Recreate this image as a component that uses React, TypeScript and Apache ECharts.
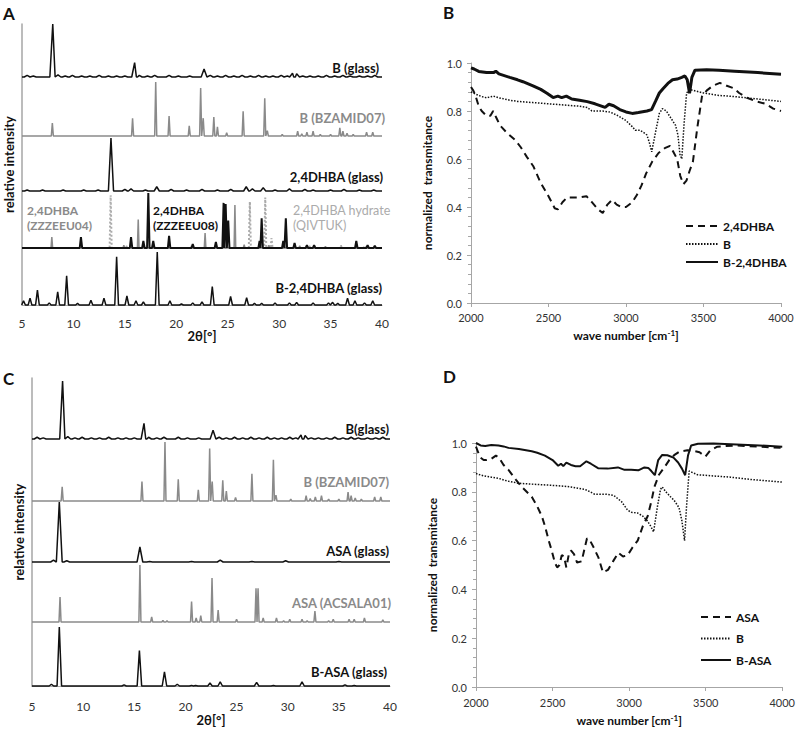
import React, { useEffect, useRef } from "react";
import * as echarts from "echarts";

type Peak = [number, number]; // [2θ in degrees, relative intensity in % of the trace maximum]

// ---------- Panel A / C : XRD patterns ----------
const bGlassPeaks: Peak[] = [
  [5.5, 3], [6.1, 2], [7.99, 100], [8.5, 4], [9.2, 2], [9.9, 3], [10.8, 2], [11.6, 2], [12.5, 3], [13.4, 2],
  [14.2, 2], [15.0, 2], [15.95, 27], [16.4, 3], [17.2, 2], [17.9, 3], [19.3, 3], [20.2, 2], [21.3, 2],
  [22.7, 15], [23.3, 3], [24.0, 2], [24.8, 3], [25.6, 2], [26.4, 3], [27.2, 2], [28.0, 3], [28.7, 2],
  [29.4, 2], [30.2, 3], [30.8, 2], [31.3, 7], [31.7, 6], [32.3, 2], [33.0, 2], [33.8, 2], [34.6, 3],
  [35.4, 2], [36.2, 3], [36.9, 2], [37.8, 2], [38.6, 2], [39.3, 3],
];
const bzamid07Peaks: Peak[] = [
  [7.95, 24], [15.75, 33], [18.0, 100], [19.3, 37], [21.26, 19], [22.37, 89], [22.62, 33], [23.65, 35],
  [24.0, 17], [24.9, 6], [26.5, 46], [28.6, 70], [28.85, 10], [30.3, 3], [31.8, 9], [32.2, 4], [32.7, 7],
  [33.3, 9], [34.0, 3], [35.0, 3], [35.9, 15], [36.2, 9], [36.6, 5], [37.2, 3], [38.5, 7], [39.1, 7],
];
const dhbaGlassPeaks: Peak[] = [
  [5.5, 2], [7.0, 2], [9.0, 2], [11.0, 2], [12.4, 2], [13.65, 100], [15.0, 3], [15.6, 4], [17.0, 2],
  [18.1, 8], [19.5, 3], [21.0, 2], [22.5, 3], [24.0, 2], [25.3, 3], [26.8, 8], [27.4, 4], [28.45, 6],
  [29.6, 2], [31.0, 4], [32.5, 3], [33.3, 2], [35.0, 2], [36.3, 3], [37.8, 2], [39.2, 2],
];
const zzzeeu08Peaks: Peak[] = [
  [10.73, 20], [15.6, 20], [16.8, 13], [17.28, 100], [17.76, 13], [19.3, 22], [21.6, 7], [23.85, 11],
  [24.6, 82], [24.8, 80], [25.05, 50], [28.1, 13], [28.3, 54], [30.4, 13], [30.65, 54], [31.5, 9],
  [32.7, 5], [33.4, 5], [37.5, 13], [38.6, 5], [39.3, 4],
];
const zzzeeu04Peaks: Peak[] = [
  [7.9, 20], [14.9, 5], [16.3, 52], [22.8, 27], [25.7, 78], [26.6, 6], [29.0, 5], [32.0, 4], [34.5, 3],
];
const qivtukPeaks: Peak[] = [
  [13.62, 96], [15.2, 4], [21.5, 4], [27.15, 84], [28.65, 92], [29.26, 18], [33.0, 4], [36.0, 5], [38.3, 4],
];
const bDhbaGlassPeaks: Peak[] = [
  [5.15, 8], [5.78, 13], [6.5, 28], [7.65, 4], [8.47, 25], [9.34, 55], [10.4, 3], [11.7, 9], [12.97, 13],
  [14.2, 91], [15.2, 17], [16.08, 8], [16.8, 6], [18.15, 100], [19.38, 8], [20.5, 2], [21.6, 4], [22.5, 6],
  [23.5, 35], [25.28, 16], [26.84, 14], [27.6, 3], [28.3, 3], [29.6, 4], [31.0, 4], [31.7, 5], [33.3, 4],
  [34.8, 4], [35.2, 5], [35.7, 3], [36.65, 13], [37.37, 8], [38.3, 4], [39.1, 8],
];
const asaGlassPeaks: Peak[] = [
  [7.1, 3], [7.67, 100], [8.4, 2], [15.55, 25], [16.5, 1], [20.6, 1], [23.4, 3], [26.5, 1], [29.8, 2], [35.0, 1],
];
const acsala01Peaks: Peak[] = [
  [7.74, 44], [15.55, 100], [16.7, 9], [17.8, 3], [18.2, 2], [20.6, 36], [21.05, 7], [21.5, 11], [22.6, 77],
  [23.2, 21], [25.0, 5], [26.9, 59], [27.1, 59], [27.6, 7], [28.9, 7], [29.6, 2], [30.2, 5], [31.4, 5],
  [31.9, 2], [32.66, 19], [34.0, 2], [34.45, 5], [36.0, 5], [36.5, 5], [37.5, 7], [39.3, 4],
];
const bAsaGlassPeaks: Peak[] = [
  [6.9, 3], [7.67, 100], [14.0, 2], [15.5, 60], [17.95, 24], [19.2, 3], [20.6, 1], [21.0, 1], [22.4, 5],
  [23.4, 7], [26.96, 6], [28.6, 1], [31.4, 7], [35.6, 2], [36.5, 1],
];

// ---------- Panel B : IR spectra ----------
const irDhba: [number, number][] = [
  [2000, 0.9], [2015, 0.885], [2026, 0.87], [2050, 0.82], [2069, 0.8], [2100, 0.78], [2125, 0.78], [2143, 0.8],
  [2165, 0.77], [2187, 0.74], [2230, 0.71], [2283, 0.68], [2320, 0.65], [2359, 0.61], [2402, 0.57], [2450, 0.5],
  [2500, 0.445], [2540, 0.395], [2560, 0.39], [2590, 0.42], [2620, 0.44], [2660, 0.44], [2700, 0.44],
  [2745, 0.445], [2780, 0.42], [2820, 0.39], [2850, 0.375], [2880, 0.41], [2910, 0.43], [2940, 0.41],
  [2970, 0.4], [3000, 0.4], [3040, 0.42], [3070, 0.45], [3100, 0.49], [3130, 0.54], [3170, 0.59],
  [3210, 0.625], [3250, 0.645], [3284, 0.655], [3305, 0.63], [3330, 0.6], [3350, 0.53], [3370, 0.495],
  [3390, 0.51], [3410, 0.55], [3432, 0.59], [3460, 0.73], [3490, 0.86], [3520, 0.885], [3560, 0.905],
  [3606, 0.917], [3650, 0.905], [3695, 0.895], [3730, 0.875], [3780, 0.855], [3840, 0.84], [3900, 0.83],
  [3950, 0.81], [4000, 0.8],
];
const irB1: [number, number][] = [
  [2000, 0.88], [2030, 0.87], [2070, 0.86], [2100, 0.855], [2145, 0.862], [2180, 0.855], [2250, 0.845],
  [2300, 0.84], [2400, 0.835], [2500, 0.83], [2600, 0.825], [2700, 0.82], [2750, 0.815], [2780, 0.8],
  [2850, 0.8], [2900, 0.795], [2950, 0.78], [3000, 0.76], [3040, 0.735], [3060, 0.72], [3090, 0.72],
  [3115, 0.71], [3135, 0.7], [3150, 0.67], [3166, 0.63], [3190, 0.71], [3215, 0.79], [3235, 0.81],
  [3260, 0.8], [3290, 0.77], [3320, 0.74], [3335, 0.7], [3348, 0.62], [3360, 0.6], [3375, 0.75],
  [3391, 0.875], [3410, 0.89], [3500, 0.875], [3600, 0.865], [3700, 0.86], [3850, 0.85], [4000, 0.84],
];
const irBDhba: [number, number][] = [
  [2000, 0.98], [2020, 0.975], [2050, 0.965], [2100, 0.96], [2145, 0.96], [2160, 0.966], [2180, 0.955],
  [2250, 0.94], [2300, 0.93], [2335, 0.922], [2400, 0.905], [2450, 0.89], [2490, 0.874], [2530, 0.856],
  [2560, 0.862], [2585, 0.856], [2615, 0.862], [2650, 0.85], [2700, 0.845], [2750, 0.839], [2800, 0.83],
  [2865, 0.815], [2890, 0.828], [2920, 0.822], [2960, 0.806], [3000, 0.796], [3040, 0.79], [3080, 0.794],
  [3135, 0.8], [3165, 0.806], [3190, 0.84], [3215, 0.875], [3240, 0.894], [3270, 0.915], [3300, 0.93],
  [3330, 0.933], [3360, 0.94], [3380, 0.946], [3395, 0.93], [3410, 0.874], [3425, 0.94], [3445, 0.97],
  [3520, 0.972], [3600, 0.97], [3700, 0.966], [3850, 0.96], [4000, 0.953],
];

// ---------- Panel D : IR spectra ----------
const irAsa: [number, number][] = [
  [2000, 0.985], [2015, 0.96], [2030, 0.94], [2050, 0.93], [2070, 0.93], [2100, 0.935], [2130, 0.948],
  [2150, 0.94], [2180, 0.91], [2212, 0.89], [2260, 0.85], [2299, 0.82], [2364, 0.78], [2400, 0.74],
  [2430, 0.7], [2450, 0.66], [2475, 0.6], [2494, 0.56], [2515, 0.51], [2530, 0.49], [2545, 0.5],
  [2560, 0.54], [2575, 0.535], [2590, 0.49], [2605, 0.54], [2620, 0.56], [2640, 0.545], [2660, 0.51],
  [2690, 0.515], [2710, 0.57], [2725, 0.61], [2745, 0.6], [2770, 0.57], [2800, 0.53], [2829, 0.47],
  [2862, 0.48], [2900, 0.52], [2930, 0.55], [2960, 0.535], [2990, 0.54], [3020, 0.57], [3056, 0.6],
  [3090, 0.66], [3121, 0.7], [3145, 0.76], [3165, 0.82], [3195, 0.87], [3230, 0.9], [3262, 0.93],
  [3294, 0.95], [3330, 0.965], [3380, 0.97], [3420, 0.968], [3460, 0.962], [3498, 0.944], [3530, 0.97],
  [3576, 0.985], [3700, 0.99], [3850, 0.985], [4000, 0.98],
];
const irB2: [number, number][] = [
  [2000, 0.875], [2050, 0.865], [2100, 0.86], [2147, 0.855], [2200, 0.845], [2277, 0.835], [2400, 0.83],
  [2537, 0.825], [2620, 0.82], [2710, 0.81], [2745, 0.8], [2775, 0.79], [2850, 0.79], [2900, 0.785],
  [2950, 0.76], [2990, 0.725], [3013, 0.716], [3056, 0.713], [3090, 0.7], [3120, 0.68], [3140, 0.66],
  [3160, 0.636], [3185, 0.74], [3205, 0.81], [3216, 0.82], [3240, 0.8], [3270, 0.78], [3294, 0.765],
  [3326, 0.735], [3345, 0.68], [3362, 0.6], [3375, 0.74], [3392, 0.885], [3446, 0.87], [3550, 0.865],
  [3663, 0.86], [3800, 0.85], [4000, 0.84],
];
const irBAsa: [number, number][] = [
  [2000, 1.0], [2030, 0.99], [2060, 0.988], [2100, 0.992], [2147, 0.99], [2180, 0.986], [2212, 0.98],
  [2280, 0.975], [2364, 0.966], [2400, 0.96], [2450, 0.948], [2500, 0.93], [2537, 0.907], [2555, 0.915],
  [2570, 0.905], [2590, 0.92], [2620, 0.91], [2650, 0.905], [2680, 0.905], [2721, 0.925], [2750, 0.915],
  [2797, 0.897], [2860, 0.895], [2927, 0.9], [2970, 0.89], [3013, 0.89], [3060, 0.888], [3100, 0.9],
  [3125, 0.898], [3145, 0.885], [3168, 0.868], [3190, 0.93], [3216, 0.951], [3250, 0.95], [3290, 0.94],
  [3320, 0.92], [3345, 0.895], [3366, 0.868], [3385, 0.95], [3405, 0.99], [3450, 0.997], [3550, 0.998],
  [3663, 0.995], [3850, 0.99], [4000, 0.985],
];

const FONT = "Lato, 'Open Sans', sans-serif";
const BLACK = "#111111";
const GRAY = "#8a8a8a";
const LIGHT = "#ababab";
const AXIS = "#a6a6a6";

function pattern(peaks: Peak[], halfWidth: number): number[][] {
  const pts: number[][] = [[5, 0]];
  peaks.forEach(([p, h]) => {
    pts.push([p - halfWidth, 0], [p, h], [p + halfWidth, 0]);
  });
  pts.push([40, 0]);
  pts.sort((a, b) => a[0] - b[0]);
  return pts;
}

export default function App() {
  const ref = useRef<HTMLDivElement>(null);

  useEffect(() => {
    if (!ref.current) return;
    const chart = echarts.init(ref.current, undefined, { renderer: "svg" });

    const grids: any[] = [];
    const xAxes: any[] = [];
    const yAxes: any[] = [];
    const series: any[] = [];

    const addFrame = (left: number, width: number, top: number, height: number, labelMargin: number, nameGap: number) => {
      const g = grids.length;
      grids.push({ left, width, top, height });
      xAxes.push({
        gridIndex: g, type: "value", min: 5, max: 40, interval: 5,
        axisLine: { show: true, lineStyle: { color: AXIS, width: 1 } },
        axisTick: { show: false }, splitLine: { show: false },
        axisLabel: { margin: labelMargin, fontSize: 12, color: "#333", fontFamily: FONT },
        name: "2θ[°]", nameLocation: "middle", nameGap,
        nameTextStyle: { fontSize: 13, fontWeight: "bold", color: BLACK, fontFamily: FONT },
      });
      yAxes.push({
        gridIndex: g, type: "value", min: 0, max: 1,
        axisLine: { show: true, lineStyle: { color: AXIS, width: 1.5 } },
        axisTick: { show: false }, axisLabel: { show: false }, splitLine: { show: false },
        name: "relative intensity", nameLocation: "middle", nameGap: 7,
        nameTextStyle: { fontSize: 13, fontWeight: "bold", color: BLACK, fontFamily: FONT },
      });
    };

    const addTrace = (left: number, width: number, top: number, height: number, lines: { name: string; peaks: Peak[]; hw: number; color: string; w: number; type?: string }[]) => {
      const g = grids.length;
      grids.push({ left, width, top, height });
      const xi = xAxes.length;
      xAxes.push({ gridIndex: g, type: "value", min: 5, max: 40, show: false });
      const yi = yAxes.length;
      yAxes.push({ gridIndex: g, type: "value", min: 0, max: 100, show: false });
      lines.forEach((l) => {
        series.push({
          name: l.name, type: "line", xAxisIndex: xi, yAxisIndex: yi, data: pattern(l.peaks, l.hw),
          symbol: "none", clip: false, silent: true,
          lineStyle: { color: l.color, width: l.w, type: l.type || "solid" },
        });
      });
    };

    const addIR = (left: number, width: number, top: number, height: number, labelMarginX: number, nameGapX: number) => {
      const g = grids.length;
      grids.push({ left, width, top, height });
      const xi = xAxes.length;
      xAxes.push({
        gridIndex: g, type: "value", min: 2000, max: 4000, interval: 500,
        axisLine: { show: true, lineStyle: { color: AXIS } },
        axisTick: { show: true, length: 4, lineStyle: { color: AXIS } },
        splitLine: { show: false },
        axisLabel: { margin: labelMarginX, fontSize: 11, color: "#333", fontFamily: FONT, formatter: (v: number) => String(v) },
        name: "wave number [cm{sup|-1}]", nameLocation: "middle", nameGap: nameGapX,
        nameTextStyle: {
          fontSize: 12, fontWeight: "bold", color: BLACK, fontFamily: FONT,
          rich: { sup: { fontSize: 8, fontWeight: "bold", color: BLACK, fontFamily: FONT, verticalAlign: "top" } },
        },
      });
      const yi = yAxes.length;
      yAxes.push({
        gridIndex: g, type: "value", min: 0, max: 1, interval: 0.2,
        axisLine: { show: true, lineStyle: { color: AXIS } },
        axisTick: { show: true, length: 4, lineStyle: { color: AXIS } },
        minorTick: { show: true, splitNumber: 5, length: 3, lineStyle: { color: AXIS } },
        splitLine: { show: false },
        axisLabel: { margin: 9, fontSize: 11, color: "#333", fontFamily: FONT, formatter: (v: number) => v.toFixed(1) },
        name: "normalized  transmitance", nameLocation: "middle", nameGap: 38,
        nameTextStyle: { fontSize: 12, fontWeight: "bold", color: BLACK, fontFamily: FONT },
      });
      return [xi, yi];
    };

    // Panel A
    addFrame(22, 360, 24, 281, 12, 24);
    addTrace(22, 360, 24, 53, [{ name: "A B glass", peaks: bGlassPeaks, hw: 0.28, color: BLACK, w: 1.5 }]);
    addTrace(22, 360, 82, 54, [{ name: "A BZAMID07", peaks: bzamid07Peaks, hw: 0.1, color: GRAY, w: 1.5 }]);
    addTrace(22, 360, 138, 53, [{ name: "A 2,4DHBA glass", peaks: dhbaGlassPeaks, hw: 0.25, color: BLACK, w: 1.5 }]);
    addTrace(22, 360, 193, 55, [
      { name: "A QIVTUK", peaks: qivtukPeaks, hw: 0.1, color: LIGHT, w: 2, type: "dotted" },
      { name: "A ZZZEEU04", peaks: zzzeeu04Peaks, hw: 0.08, color: GRAY, w: 1.5 },
      { name: "A ZZZEEU08", peaks: zzzeeu08Peaks, hw: 0.12, color: BLACK, w: 2 },
    ]);
    addTrace(22, 360, 252, 53, [{ name: "A B-2,4DHBA glass", peaks: bDhbaGlassPeaks, hw: 0.18, color: BLACK, w: 1.5 }]);

    // Panel B
    const [bx, by] = addIR(471, 310, 63, 240, 9, 26);

    // Panel C
    addFrame(32, 358, 378, 308, 14, 27);
    addTrace(32, 358, 381, 58, [{ name: "C B glass", peaks: bGlassPeaks, hw: 0.28, color: BLACK, w: 1.5 }]);
    addTrace(32, 358, 442, 59, [{ name: "C BZAMID07", peaks: bzamid07Peaks, hw: 0.1, color: GRAY, w: 1.5 }]);
    addTrace(32, 358, 502, 60, [{ name: "C ASA glass", peaks: asaGlassPeaks, hw: 0.28, color: BLACK, w: 1.5 }]);
    addTrace(32, 358, 565, 57, [{ name: "C ACSALA01", peaks: acsala01Peaks, hw: 0.1, color: GRAY, w: 1.5 }]);
    addTrace(32, 358, 627, 59, [{ name: "C B-ASA glass", peaks: bAsaGlassPeaks, hw: 0.22, color: BLACK, w: 1.5 }]);

    // Panel D
    const [dx, dy] = addIR(476, 308, 443, 244, 10, 27);

    const ir = (name: string, data: [number, number][], xi: number, yi: number, lineStyle: any) => ({
      name, type: "line", xAxisIndex: xi, yAxisIndex: yi, data, symbol: "none", showSymbol: false,
      itemStyle: { color: BLACK }, lineStyle,
    });
    series.push(
      ir("2,4DHBA", irDhba, bx, by, { color: BLACK, width: 2, type: [7, 5] }),
      ir("B", irB1, bx, by, { color: BLACK, width: 1.5, type: [1.5, 1.5] }),
      ir("B-2,4DHBA", irBDhba, bx, by, { color: BLACK, width: 3 }),
      ir("ASA", irAsa, dx, dy, { color: BLACK, width: 2, type: [7, 5] }),
      ir("B ", irB2, dx, dy, { color: BLACK, width: 1.5, type: [1.5, 1.5] }),
      ir("B-ASA", irBAsa, dx, dy, { color: BLACK, width: 2 }),
    );

    const txt = (text: string, x: number, y: number, opts: any = {}) => ({
      type: "text", silent: true, z: 10,
      style: {
        text, x, y,
        fill: opts.fill || BLACK,
        font: `${opts.weight || "bold"} ${opts.size || 13}px ${FONT}`,
        textAlign: opts.align || "right", align: opts.align || "right",
        textVerticalAlign: "middle", verticalAlign: "middle",
      },
    });

    const graphic = [
      txt("A", 3, 13, { size: 17, align: "left" }),
      txt("B", 443, 12, { size: 17, align: "left" }),
      txt("C", 3, 378, { size: 17, align: "left" }),
      txt("D", 443, 376, { size: 17, align: "left" }),
      txt("B (glass)", 379, 68),
      txt("B (BZAMID07)", 385, 118, { fill: GRAY }),
      txt("2,4DHBA (glass)", 383, 177),
      txt("2,4DHBA", 27, 210, { fill: GRAY, align: "left", size: 12 }),
      txt("(ZZZEEU04)", 27, 225, { fill: GRAY, align: "left", size: 12 }),
      txt("2,4DHBA", 153, 210, { align: "left", size: 12 }),
      txt("(ZZZEEU08)", 153, 225, { align: "left", size: 12 }),
      txt("2,4DHBA hydrate", 293, 210, { fill: LIGHT, align: "left", weight: "normal", size: 12.5 }),
      txt("(QIVTUK)", 293, 225, { fill: LIGHT, align: "left", weight: "normal", size: 12.5 }),
      txt("B-2,4DHBA (glass)", 382, 288),
      txt("B(glass)", 389, 429),
      txt("B (BZAMID07)", 389, 482, { fill: GRAY }),
      txt("ASA (glass)", 389, 551),
      txt("ASA (ACSALA01)", 391, 603, { fill: GRAY }),
      txt("B-ASA (glass)", 387, 672),
    ];

    const legendCommon = {
      orient: "vertical", itemHeight: 14, selectedMode: false,
      itemStyle: { opacity: 0 },
      textStyle: { fontSize: 12, fontWeight: "bold", color: BLACK, fontFamily: FONT },
    };

    chart.setOption({
      animation: false,
      backgroundColor: "#ffffff",
      textStyle: { fontFamily: FONT },
      grid: grids,
      xAxis: xAxes,
      yAxis: yAxes,
      series,
      legend: [
        { ...legendCommon, data: ["2,4DHBA", "B", "B-2,4DHBA"], left: 680, top: 215, itemWidth: 32, itemGap: 6 },
        {
          ...legendCommon, data: ["ASA", "B ", "B-ASA"], left: 695, top: 606, itemWidth: 30, itemGap: 9.5,
          formatter: (n: string) => n.trim(),
        },
      ],
      graphic,
    });

    return () => chart.dispose();
  }, []);

  return <div ref={ref} style={{ position: "fixed", left: 0, top: 0, width: 798, height: 729, background: "#fff" }} />;
}
